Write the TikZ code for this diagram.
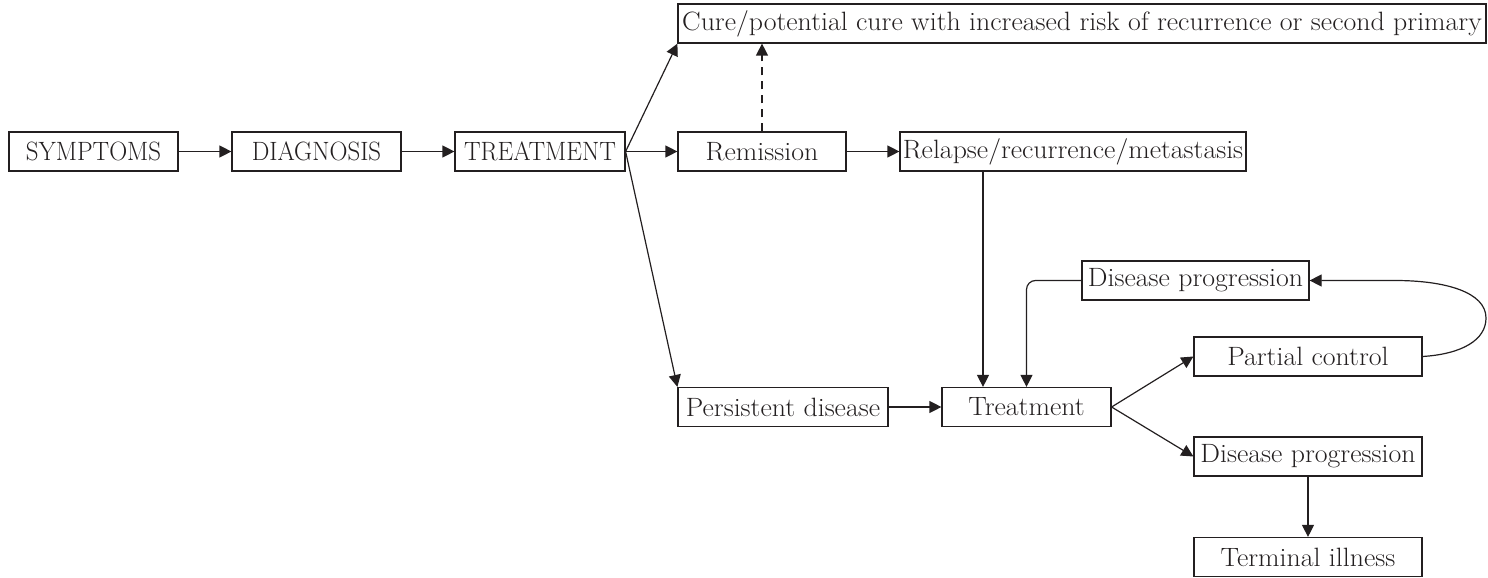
\documentclass[tikz,border=0pt]{standalone}
\usepackage{fontspec}
\setmainfont{Latin Modern Roman}[FakeStretch=1.05]
\newfontfamily\capsfont{Latin Modern Roman}[FakeStretch=0.94]
\usetikzlibrary{arrows.meta}
\definecolor{ink}{HTML}{231F20}
\begin{document}
\begin{tikzpicture}[x=1pt,y=-1pt,
  box/.style={draw=ink, line width=1.2pt, inner sep=0pt, minimum height=39pt,
    text=ink, font=\fontsize{26.5}{31}\selectfont, anchor=center},
  capbox/.style={box, font=\capsfont\fontsize{26.5}{31}\selectfont},
  arr/.style={draw=ink, line width=1.2pt, -{Triangle[length=12pt,width=12pt]}},
  dsh/.style={arr, dash pattern=on 8pt off 6pt}]
\useasboundingbox (0,0) rectangle (1488,578);
\node[capbox, minimum width=169pt] (sym)  at (93.5,151.5) {SYMPTOMS};
\node[capbox, minimum width=169pt] (diag) at (316.5,151.5) {DIAGNOSIS};
\node[capbox, minimum width=170pt] (treat) at (540,151.5) {TREATMENT};
\node[box, minimum width=168pt] (rem) at (762,151.5) {Remission};
\node[box, minimum width=346pt] (rel) at (1073,151.5) {Relapse/recurrence/metastasis};
\node[box, minimum width=808pt] (cure) at (1082,23.5) {Cure/potential cure with increased risk of recurrence or second primary};
\node[box, minimum width=227pt] (dpu) at (1195.5,280.5) {Disease progression};
\node[box, minimum width=228pt] (pc) at (1308,356.5) {Partial control};
\node[box, minimum width=210pt] (pers) at (783,407) {Persistent disease};
\node[box, minimum width=169pt] (tr2) at (1026.5,407) {Treatment};
\node[box, minimum width=228pt] (dpl) at (1308,456.5) {Disease progression};
\node[box, minimum width=228pt] (term) at (1308,557) {Terminal illness};

\draw[arr] (sym) -- (diag);
\draw[arr] (diag) -- (treat);
\draw[arr] (treat) -- (rem);
\draw[arr] (rem) -- (rel);
\draw[arr] (treat.east) -- (cure.south west);
\draw[arr] (treat.east) -- (pers.north west);
\draw[dsh] (rem.north) -- (rem.north |- cure.south);
\draw[arr] (pers) -- (tr2);
\draw[arr] ([xshift=-43.5pt]tr2.north |- rel.south) -- ([xshift=-43.5pt]tr2.north);
\draw[arr, rounded corners=9pt] (dpu.west) -| (tr2.north);
\draw[arr] (tr2.east) -- (pc.west);
\draw[arr] (tr2.east) -- (dpl.west);
\draw[arr] (dpl) -- (term);
\draw[arr] (pc.east) .. controls (1462,354) and (1486,340) .. (1486,318)
  .. controls (1486,292) and (1445,280.5) .. (1395,280.5) -- (dpu.east);
\end{tikzpicture}
\end{document}
